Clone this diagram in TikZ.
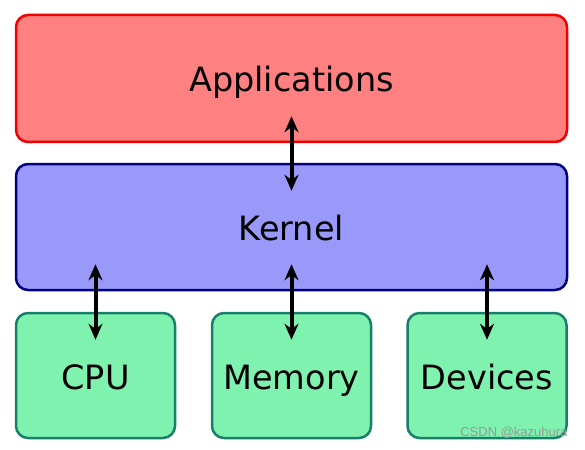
\documentclass[tikz,border=0pt]{standalone}
\usepackage{fontspec}
\setmainfont{DejaVu Sans}
\newfontfamily\markfont{Liberation Sans}
\usepackage{tikz}
\usetikzlibrary{arrows.meta}

\definecolor{appfill}{RGB}{255,128,128}
\definecolor{appline}{RGB}{240,0,0}
\definecolor{kernfill}{RGB}{153,153,250}
\definecolor{kernline}{RGB}{0,0,128}
\definecolor{hwfill}{RGB}{128,242,176}
\definecolor{hwline}{RGB}{24,128,106}

\begin{document}
\begin{tikzpicture}[x=1pt, y=-1pt,
  layer/.style={rectangle, rounded corners=12pt, line width=2.5pt, inner sep=0pt, text height=27pt, text depth=0pt, font=\fontsize{33.5}{40}\selectfont},
  hw/.style={layer, fill=hwfill, draw=hwline, minimum width=159pt, minimum height=125pt},
  link/.style={{Stealth[length=16pt,width=14pt]}-{Stealth[length=16pt,width=14pt]}, line width=4pt, shorten <=-27pt, shorten >=-28pt}]
  \useasboundingbox (0,0) rectangle (585,449);
  \node[layer, fill=appfill, draw=appline, minimum width=551pt, minimum height=127pt] (app) at (291.5,78.5) {Applications};
  \node[layer, fill=kernfill, draw=kernline, minimum width=551pt, minimum height=126pt] (kern) at (291.5,227) {Kernel};
  \node[hw] (cpu) at (95.5,375.5) {CPU};
  \node[hw] (mem) at (291.5,375.5) {Memory};
  \node[hw] (dev) at (487,375.5) {Devices};
  \node[anchor=east, text=black!40, font=\markfont\fontsize{13}{15}\selectfont] (mark) at (571,433) {CSDN @kazuhura};
  \path[link]
  (app.south -| mem) edge (kern.north -| mem)
  (kern.south -| cpu) edge (cpu.north)
  (kern.south -| mem) edge (mem.north)
  (kern.south -| dev) edge (dev.north)
  ;
\end{tikzpicture}
\end{document}
